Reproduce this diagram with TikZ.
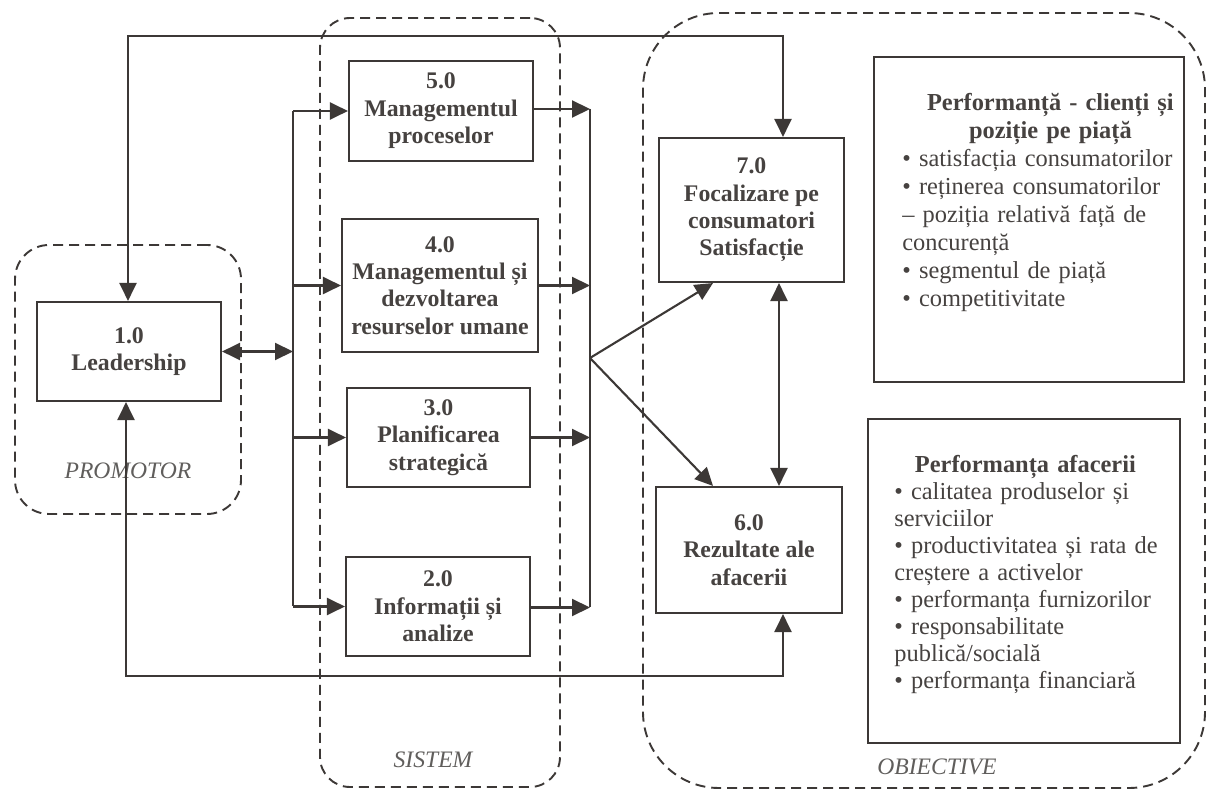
\documentclass[tikz,border=0pt]{standalone}
\usepackage{fontspec}
\setmainfont{Liberation Serif}
\usetikzlibrary{arrows.meta,calc}
\definecolor{ink}{RGB}{60,56,54}
\definecolor{txt}{RGB}{70,66,64}
\definecolor{lbl}{RGB}{96,94,92}
\begin{document}
\begin{tikzpicture}[x=0.5pt, y=-0.5pt,
  conn/.style={draw=ink, line width=1.05pt},
  arr/.style={conn, -{Triangle[length=9pt,width=8.5pt]}},
  darr/.style={conn, {Triangle[length=9pt,width=8.5pt]}-{Triangle[length=9pt,width=8.5pt]}},
  box/.style={draw=ink, line width=1.05pt, fill=white, align=center, text=txt,
    font=\bfseries\fontsize{11.9}{13.7}\selectfont, inner sep=0pt},
  panel/.style={draw=ink, line width=1.05pt, inner sep=0pt},
  grp/.style={draw=ink, line width=0.95pt, dash pattern=on 5pt off 3pt, inner sep=0pt},
  lab/.style={font=\itshape\fontsize{11.8}{13}\selectfont, text=lbl, inner sep=0pt},
  rtext/.style={align=left, text=txt, inner sep=0pt, font=\fontsize{12.2}{14}\selectfont}
]
\fill[white] (0,0) rectangle (1212,791);
\useasboundingbox (0,0) rectangle (1212,791);

% dashed groups
\node[grp, rounded corners=17pt, minimum width=113pt, minimum height=134.5pt] (promotor) at (128,379.5) {};
\node[grp, rounded corners=15pt, minimum width=120pt, minimum height=384.5pt] (sistem) at (440,402.5) {};
\node[grp, rounded corners=38pt, minimum width=281pt, minimum height=387.5pt] (obiective) at (924,400.5) {};

\node[lab] (pl) at (128,471) {PROMOTOR};
\node[lab] (sl) at (433,760) {SISTEM};
\node[lab] (ol) at (937,767) {OBIECTIVE};

% boxes
\node[box, minimum width=92pt, minimum height=49.5pt] (L1) at (129,351.5) {1.0\\Leadership};
\node[box, minimum width=92pt, minimum height=50pt] (B5) at (441,111) {5.0\\Managementul\\proceselor};
\node[box, minimum width=98pt, minimum height=66.5pt] (B4) at (440,285.5) {4.0\\Managementul și\\dezvoltarea\\resurselor umane};
\node[box, minimum width=91.5pt, minimum height=49.5pt] (B3) at (438.5,437.5) {3.0\\Planificarea\\strategică};
\node[box, minimum width=92pt, minimum height=49.5pt] (B2) at (438,606.5) {2.0\\Informații și\\analize};
\node[box, minimum width=92.5pt, minimum height=72pt] (B7) at (751.5,210) {7.0\\Focalizare pe\\consumatori\\Satisfacție};
\node[box, minimum width=93pt, minimum height=63pt] (B6) at (749,550) {6.0\\Rezultate ale\\afacerii};

\node[panel, minimum width=155pt, minimum height=162.5pt] (R1) at (1029,219.5) {};
\node[panel, minimum width=156pt, minimum height=162pt] (R2) at (1024,581) {};

\node[rtext, text width=150pt, anchor=north west] (T1) at (902,93) {%
\makebox[148pt][c]{\bfseries Performanță - clienți și}\\
\makebox[148pt][c]{\bfseries poziție pe piață}\\
• satisfacția consumatorilor\\
• reținerea consumatorilor\\
– poziția relativă față de\\
concurență\\
• segmentul de piață\\
• competitivitate};

\node[rtext, text width=150pt, anchor=north west, font=\fontsize{12.2}{13.5}\selectfont] (T2) at (894,455) {%
\makebox[131pt][c]{\bfseries Performanța afacerii}\\
• calitatea produselor și\\
serviciilor\\
• productivitatea și rata de\\
creștere a activelor\\
• performanța furnizorilor\\
• responsabilitate\\
publică/socială\\
• performanța financiară};

% coordinates
\coordinate (busL) at (293,0);
\coordinate (busR) at (590,0);
\coordinate (fan) at (590,358);
\coordinate (fx) at (713,0);
\coordinate (mx) at (779,0);
\coordinate (tl) at (128,36);
\coordinate (tr) at (783,36);
\coordinate (bl) at (126,676);
\coordinate (brr) at (783,676);

% top and bottom loops
\draw[darr] (L1.north -| tl) -- (tl) -- (tr) -- (B7.north -| tr);
\draw[darr] (L1.south -| bl) -- (bl) -- (brr) -- (B6.south -| brr);

% leadership to left bus
\draw[darr] (L1.east) -- (L1.east -| busL);
\draw[conn] (B5.west -| busL) -- (B2.west -| busL);
\draw[arr] (B5.west -| busL) -- (B5.west);
\draw[arr] (B4.west -| busL) -- (B4.west);
\draw[arr] (B3.west -| busL) -- (B3.west);
\draw[arr] (B2.west -| busL) -- (B2.west);

% right bus
\draw[conn] ([yshift=1pt]B5.east -| busR) -- ([yshift=-0.5pt]B2.east -| busR);
\draw[arr] ([yshift=1pt]B5.east) -- ([yshift=1pt]B5.east -| busR);
\draw[arr] (B4.east) -- (B4.east -| busR);
\draw[arr] (B3.east) -- (B3.east -| busR);
\draw[arr] ([yshift=-0.5pt]B2.east) -- ([yshift=-0.5pt]B2.east -| busR);

% fan
\draw[arr] (fan) -- (B7.south -| fx);
\draw[arr] (fan) -- (B6.north -| fx);

% 7.0 <-> 6.0
\draw[darr] (B7.south -| mx) -- (B6.north -| mx);
\end{tikzpicture}
\end{document}
